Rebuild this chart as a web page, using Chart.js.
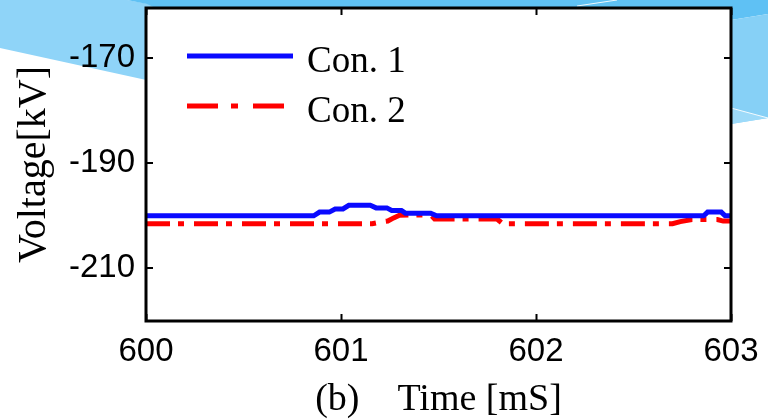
<!DOCTYPE html>
<html>
<head>
<meta charset="utf-8">
<script src="https://cdn.jsdelivr.net/npm/chart.js@4/dist/chart.umd.min.js"></script>
<style>
  html, body { margin: 0; padding: 0; background: #ffffff; }
  #wrap { width: 768px; height: 420px; }
</style>
</head>
<body>
<div id="wrap"><canvas id="chart" width="768" height="420"></canvas></div>
<script>
// Converter DC voltage around the 600-603 ms window
const con1Time = [600, 600.86, 600.89, 600.94, 600.97, 601.01, 601.04, 601.15, 601.18, 601.235, 601.26, 601.31, 601.33, 601.46, 601.49, 602.86, 602.88, 602.95, 602.97, 603];
const con1Kv   = [-200, -200, -199.3, -199.3, -198.7, -198.7, -198.0, -198.0, -198.5, -198.5, -199.0, -199.0, -199.5, -199.5, -200, -200, -199.3, -199.3, -200, -200];

const con2Time = [600, 601.16, 601.2, 601.24, 601.27, 601.3, 601.46, 601.48, 601.8, 601.83, 602.7, 602.74, 602.8, 602.93, 602.96, 603];
const con2Kv   = [-201.5, -201.5, -201.2, -201.0, -200.4, -199.9, -199.8, -200.6, -200.6, -201.5, -201.5, -201.1, -200.7, -200.7, -201.0, -201.0];

const seriesNames = ['Con. 1', 'Con. 2'];
const xTickValues = [600, 601, 602, 603];
const yTickValues = [-170, -190, -210];

const xTitle = '(b)    Time [mS]';
const yTitle = 'Voltage[kV]';

const SANS = '"Liberation Sans", Arial, sans-serif';
const SERIF = '"Liberation Serif", "Times New Roman", serif';

const toPoints = (xs, ys) => xs.map((x, i) => ({ x: x, y: ys[i] }));

// Slide-style background wisps behind the figure
const backdrop = {
  id: 'backdrop',
  beforeDraw(chart) {
    const ctx = chart.ctx;
    ctx.save();
    ctx.fillStyle = '#ffffff';
    ctx.fillRect(0, 0, chart.width, chart.height);
    // left wisp
    ctx.fillStyle = '#8fd4f8';
    ctx.beginPath();
    ctx.moveTo(0, 0); ctx.lineTo(127, 0); ctx.lineTo(160, 6); ctx.lineTo(160, 83); ctx.lineTo(0, 48);
    ctx.closePath(); ctx.fill();
    // top band
    ctx.fillStyle = '#5fc1f4';
    ctx.beginPath();
    ctx.moveTo(127, 0); ctx.lineTo(768, 0); ctx.lineTo(768, 14); ctx.lineTo(731, 20); ctx.lineTo(731, 10); ctx.lineTo(160, 10); ctx.lineTo(147, 4);
    ctx.closePath(); ctx.fill();
    // right wisp
    ctx.fillStyle = '#86d0f6';
    ctx.beginPath();
    ctx.moveTo(731, 20); ctx.lineTo(768, 14); ctx.lineTo(768, 118); ctx.lineTo(731, 124);
    ctx.closePath(); ctx.fill();
    ctx.fillStyle = '#9ddaf9';
    ctx.beginPath();
    ctx.moveTo(731, 108); ctx.lineTo(768, 118); ctx.lineTo(731, 124);
    ctx.closePath(); ctx.fill();
    ctx.strokeStyle = 'rgba(255,255,255,0.9)';
    ctx.lineWidth = 1;
    ctx.beginPath(); ctx.moveTo(731, 108); ctx.lineTo(768, 118); ctx.stroke();
    ctx.beginPath(); ctx.moveTo(577, 6); ctx.lineTo(617, 0); ctx.stroke();
    // plot background
    const a = chart.chartArea;
    ctx.fillStyle = '#ffffff';
    ctx.fillRect(a.left, a.top, a.right - a.left, a.bottom - a.top);
    ctx.restore();
  }
};

// Boxed axes with inward tick marks on all four sides
const frameBox = {
  id: 'frameBox',
  afterDatasetsDraw(chart) {
    const ctx = chart.ctx;
    const a = chart.chartArea;
    const xs = chart.scales.x, ys = chart.scales.y;
    const len = 7;
    ctx.save();
    ctx.strokeStyle = '#000000';
    ctx.lineWidth = 2;
    ctx.beginPath();
    xs.ticks.forEach(t => {
      const px = Math.round(xs.getPixelForValue(t.value)) + 0.5;
      ctx.moveTo(px, a.bottom); ctx.lineTo(px, a.bottom - len);
      ctx.moveTo(px, a.top); ctx.lineTo(px, a.top + len);
    });
    ys.ticks.forEach(t => {
      const py = Math.round(ys.getPixelForValue(t.value));
      ctx.moveTo(a.left, py); ctx.lineTo(a.left + len, py);
      ctx.moveTo(a.right, py); ctx.lineTo(a.right - len, py);
    });
    ctx.stroke();
    ctx.lineWidth = 3;
    ctx.strokeRect(a.left, a.top, a.right - a.left, a.bottom - a.top);
    ctx.restore();
  }
};

// Legend drawn inside the plot, line samples taken from the datasets
const innerLegend = {
  id: 'innerLegend',
  afterDraw(chart) {
    const ctx = chart.ctx;
    const a = chart.chartArea;
    const x0 = a.left + 41, x1 = a.left + 147;
    const rows = [a.top + 48, a.top + 98];
    ctx.save();
    chart.data.datasets.forEach((ds, i) => {
      const y = rows[i];
      ctx.strokeStyle = ds.borderColor;
      ctx.lineWidth = ds.borderWidth;
      ctx.lineCap = 'butt';
      ctx.setLineDash(ds.legendDash || []);
      ctx.beginPath(); ctx.moveTo(x0, y); ctx.lineTo(x1, y); ctx.stroke();
      ctx.setLineDash([]);
      ctx.fillStyle = '#000000';
      ctx.font = '37px ' + SERIF;
      ctx.textBaseline = 'alphabetic';
      ctx.textAlign = 'left';
      ctx.fillText(ds.label, x1 + 14, y + 16);
    });
    ctx.restore();
  }
};

new Chart(document.getElementById('chart'), {
  type: 'line',
  data: {
    datasets: [
      {
        label: seriesNames[0],
        data: toPoints(con1Time, con1Kv),
        borderColor: '#0a0aff',
        borderWidth: 5,
        pointRadius: 0,
        tension: 0,
        legendDash: []
      },
      {
        label: seriesNames[1],
        data: toPoints(con2Time, con2Kv),
        borderColor: '#ff0000',
        borderWidth: 5,
        borderDash: [24, 8, 6, 10],
        borderCapStyle: 'butt',
        pointRadius: 0,
        tension: 0,
        legendDash: [31, 13, 7, 15]
      }
    ]
  },
  options: {
    responsive: false,
    animation: false,
    devicePixelRatio: 1,
    layout: { padding: { top: 8, right: 37, left: 0, bottom: 0 } },
    plugins: { legend: { display: false }, tooltip: { enabled: false } },
    scales: {
      x: {
        type: 'linear',
        min: 600,
        max: 603,
        afterBuildTicks: s => { s.ticks = xTickValues.map(v => ({ value: v })); },
        afterFit: s => { s.height = 99; s.paddingLeft = 0; s.paddingRight = 0; },
        grid: { display: false, drawTicks: false },
        border: { display: false },
        ticks: {
          padding: 11,
          color: '#000000',
          font: { family: SANS, size: 33 },
          maxRotation: 0,
          callback: v => String(v)
        },
        title: {
          display: true,
          text: xTitle,
          color: '#000000',
          font: { family: SERIF, size: 38, lineHeight: 1 },
          padding: { top: 0, bottom: 1 }
        }
      },
      y: {
        type: 'linear',
        min: -220,
        max: -160.5,
        afterBuildTicks: s => { s.ticks = yTickValues.map(v => ({ value: v })); },
        afterFit: s => { s.width = 146; s.paddingTop = 0; s.paddingBottom = 0; },
        grid: { display: false, drawTicks: false },
        border: { display: false },
        ticks: {
          padding: 11,
          color: '#000000',
          font: { family: SANS, size: 33 },
          callback: v => String(v)
        },
        title: {
          display: true,
          text: yTitle,
          color: '#000000',
          font: { family: SERIF, size: 40, lineHeight: 1 },
          padding: { top: 14, bottom: 0 }
        }
      }
    }
  },
  plugins: [backdrop, frameBox, innerLegend]
});
</script>
</body>
</html>
